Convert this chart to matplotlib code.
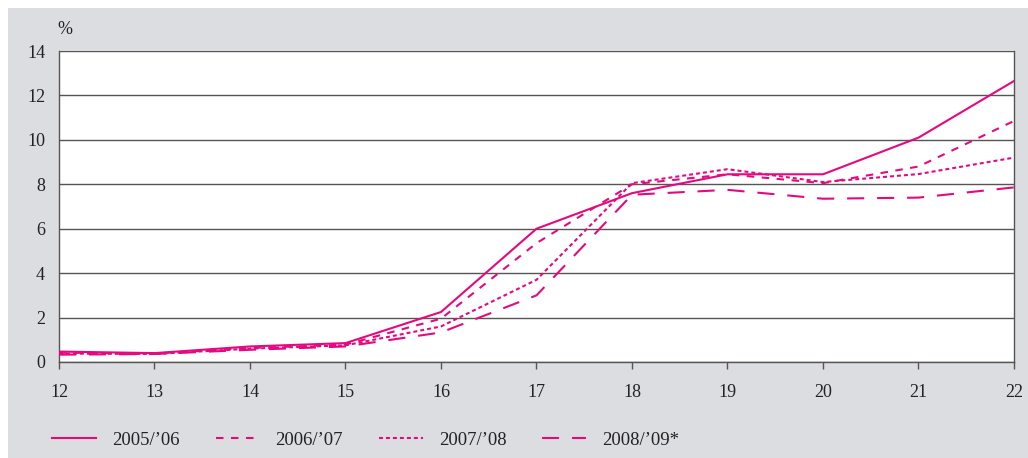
import matplotlib

matplotlib.use("Agg")
import matplotlib.pyplot as plt
from matplotlib.patches import Rectangle

ages = [12, 13, 14, 15, 16, 17, 18, 19, 20, 21, 22]
s2005 = [0.47, 0.40, 0.70, 0.85, 2.25, 6.0, 7.6, 8.45, 8.45, 10.1, 12.65]
s2006 = [0.42, 0.38, 0.63, 0.78, 1.95, 5.35, 8.0, 8.45, 8.05, 8.8, 10.85]
s2007 = [0.38, 0.36, 0.60, 0.75, 1.6, 3.7, 8.05, 8.68, 8.1, 8.46, 9.2]
s2008 = [0.33, 0.36, 0.55, 0.70, 1.33, 3.0, 7.53, 7.75, 7.35, 7.4, 7.86]
labels = ["2005/\u201906", "2006/\u201907", "2007/\u201908", "2008/\u201909*"]
yticks = [0, 2, 4, 6, 8, 10, 12, 14]

PINK = "#e5087f"
GRID = "#555555"
BG = "#dcdde0"
TXT = "#222222"
FONT = "Liberation Serif"

W, H = 1028, 458
fig = plt.figure(figsize=(W / 100, H / 100), dpi=100, facecolor="white")
fig.patches.append(Rectangle((8 / W, 0), 1 - 8 / W, 1 - 8 / H, transform=fig.transFigure,
                             facecolor=BG, edgecolor="none", zorder=-10))

ax = fig.add_axes([59 / W, 1 - 362 / H, (1014 - 59) / W, (362 - 51) / H])
ax.set_facecolor("white")

styles = [
    "-",
    (0, (3.6, 3.6)),
    (0, (1.9, 1.45)),
    (0, (8.2, 6.2)),
]
handles = []
for vals, ls, lab in zip([s2005, s2006, s2007, s2008], styles, labels):
    (ln,) = ax.plot(ages, vals, color=PINK, linewidth=1.5, linestyle=ls, label=lab, zorder=3)
    handles.append(ln)

ax.set_xlim(12, 22)
ax.set_ylim(0, 14)
ax.set_xticks(ages)
ax.set_yticks(yticks)
ax.yaxis.grid(True, color=GRID, linewidth=1.0)
ax.set_axisbelow(True)
for side in ["left", "right", "bottom"]:
    ax.spines[side].set_color(GRID)
    ax.spines[side].set_linewidth(1.0)
ax.spines["top"].set_visible(False)
ax.tick_params(axis="x", direction="out", length=5, width=1, color=GRID, pad=11,
               labelsize=13, labelcolor=TXT)
ax.tick_params(axis="y", length=0, pad=10, labelsize=13, labelcolor=TXT)
for t in ax.get_xticklabels() + ax.get_yticklabels():
    t.set_fontfamily(FONT)

fig.text(65 / W, 1 - 29 / H, "%", fontsize=13, family=FONT, color=TXT,
         ha="center", va="center")

leg = fig.legend(handles=handles, labels=labels, loc="center left",
                 bbox_to_anchor=(43 / W, 1 - 440 / H), ncol=4, frameon=False,
                 handlelength=2.35, handletextpad=0.85, columnspacing=1.9,
                 borderpad=0, prop={"family": FONT, "size": 13.5})
for t in leg.get_texts():
    t.set_color(TXT)

fig.savefig("out.png", dpi=100, facecolor=fig.get_facecolor())
